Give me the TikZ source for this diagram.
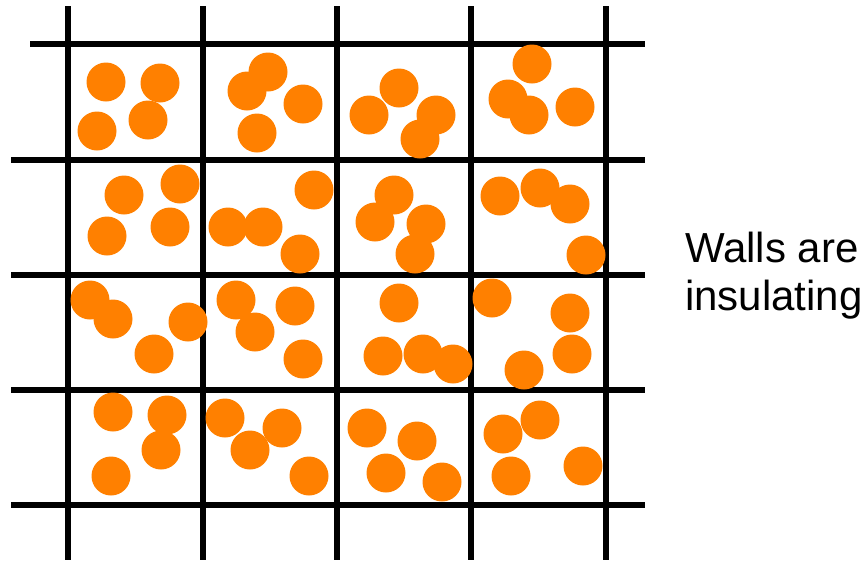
\documentclass[tikz,border=0pt]{standalone}
\usepackage{fontspec}
\newfontfamily\scritta{Liberation Sans}
\usepackage{tikz}
\usetikzlibrary{arrows.meta}

\definecolor{arancio}{RGB}{255,128,0}

\begin{document}
\begin{tikzpicture}[
          x=1pt, y=-1pt,
          % Stile delle pareti della griglia
          parete/.style={
              draw=black,
              line width=6pt
          },
          % Stile delle particelle
          particella/.style={
              fill=arancio
          },
          % Stile della scritta a destra
          etichetta/.style={
              anchor=base west,
              inner sep=0pt,
              font=\scritta\fontsize{42}{48}\selectfont
          }
      ]
          \useasboundingbox (0,0) rectangle (865,560);

          % 1. Pareti verticali
          \foreach \x in {68,203,337,471,606}
              \draw [parete] (\x,6) -- (\x,560);

          % 2. Pareti orizzontali
          \draw [parete] (30,44) -- (645,44);
          \foreach \y in {160,275,390,505}
              \draw [parete] (11,\y) -- (645,\y);

          % 3. Particelle (sopra le pareti)
          \foreach \x/\y in {
              106/82, 160/83, 97/131, 148/120,
              268/72, 247/91, 303/104, 257/133,
              399/88, 369/115, 436/115, 420/139,
              532/64, 508/99, 529/115, 575/107,
              124/195, 180/184, 107/236, 170/227,
              228/227, 263/227, 314/190, 300/254,
              394/195, 375/222, 426/224, 415/254,
              500/196, 540/188, 570/204, 586/255,
              90/300, 113/319, 188/322, 154/354,
              236/300, 255/332, 295/306, 303/359,
              399/303, 383/356, 423/354, 453/364,
              492/298, 570/313, 572/354, 524/370,
              113/412, 167/415, 161/450, 111/476,
              225/418, 250/450, 282/428, 309/476,
              367/428, 417/441, 386/473, 442/482,
              503/434, 540/420, 511/476, 583/466}
              \fill [particella] (\x,\y) circle (19.5);

          % 4. Scritta a destra
          \node [etichetta] (pareti) at (685,262) {Walls are};
          \node [etichetta] (isolanti) at (685,310) {insulating};

      \end{tikzpicture}
\end{document}
